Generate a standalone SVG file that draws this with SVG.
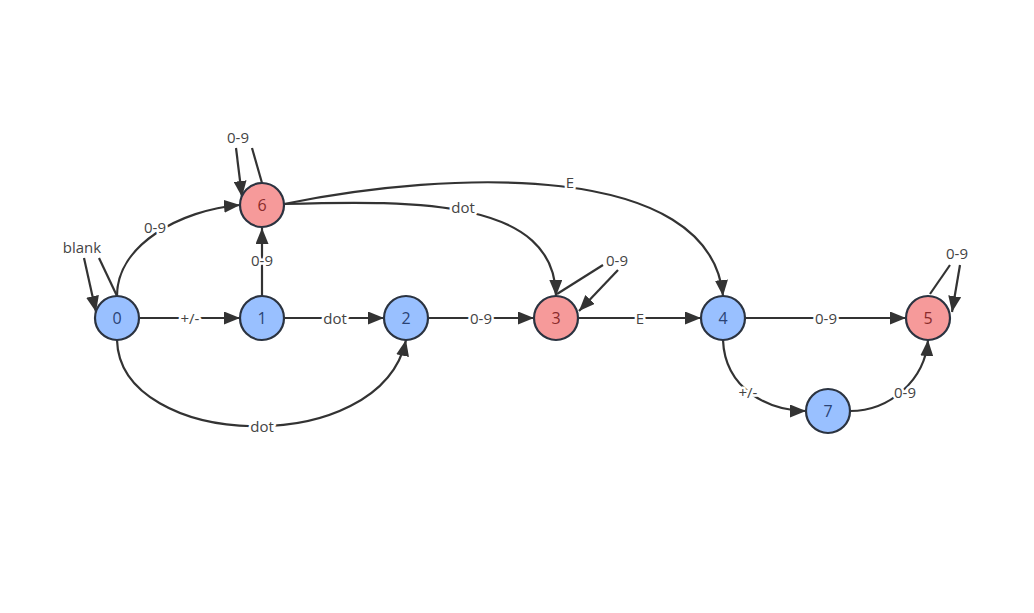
<svg xmlns="http://www.w3.org/2000/svg" width="1034" height="613" viewBox="0 0 1034 613">
<style>
.e{fill:none;stroke:#333;stroke-width:2.2}
.a{marker-end:url(#arr)}
.lbl{font-family:"Open Sans","Liberation Sans",sans-serif;font-size:15px;fill:#444;text-anchor:middle;dominant-baseline:central;paint-order:stroke;stroke:#fff;stroke-width:5px;stroke-linejoin:round}
.nb{fill:#99c0ff;stroke:#2b3340;stroke-width:2.2}
.nr{fill:#f69a9a;stroke:#2b3340;stroke-width:2.2}
.tb{font-family:"Open Sans","Liberation Sans",sans-serif;font-size:16px;fill:#2a4375;text-anchor:middle;dominant-baseline:central}
.tr{font-family:"Open Sans","Liberation Sans",sans-serif;font-size:16px;fill:#8a2b2b;text-anchor:middle;dominant-baseline:central}
</style>
<defs>
<marker id="arr" markerUnits="userSpaceOnUse" markerWidth="17" markerHeight="13" refX="16" refY="6.5" orient="auto">
<path d="M0,0 L16,6.5 L0,13 z" fill="#333"/>
</marker>
</defs>
<rect width="1034" height="613" fill="#fff"/>
<g id="connectors">
<path class="e a" d="M139,318 L240,318"/>
<path class="e a" d="M284,318 L384,318"/>
<path class="e a" d="M428,318 L534,318"/>
<path class="e a" d="M578,318 L701,318"/>
<path class="e a" d="M745,318 L906,318"/>
<path class="e a" d="M262,296 L262,228"/>
<path class="e a" d="M117,296 C117,245 180,210 240,205"/>
<path class="e a" d="M284,204 C420,200 555,200 556,296"/>
<path class="e a" d="M284,204 C450,170 710,160 723,296"/>
<path class="e a" d="M117,340 C120,450 380,460 406,340"/>
<path class="e a" d="M723,340 C725,390 770,411 806,411"/>
<path class="e a" d="M850,411 C890,411 925,380 928,340"/>
<path class="e a" d="M84,258 L96,312"/>
<path class="e" d="M99,258 L117,296"/>
<path class="e a" d="M236,148 L242,197"/>
<path class="e" d="M252,148 L262,183"/>
<path class="e" d="M557,294 L603,265"/>
<path class="e a" d="M618,270 L579,311"/>
<path class="e" d="M930,294 L950,265"/>
<path class="e a" d="M960,265 L952,312"/>
<text class="lbl" x="190" y="318">+/-</text>
<text class="lbl" x="335" y="318">dot</text>
<text class="lbl" x="481" y="318">0-9</text>
<text class="lbl" x="640" y="318">E</text>
<text class="lbl" x="826" y="318">0-9</text>
<text class="lbl" x="262" y="260">0-9</text>
<text class="lbl" x="155" y="227">0-9</text>
<text class="lbl" x="463" y="207">dot</text>
<text class="lbl" x="570" y="182">E</text>
<text class="lbl" x="262" y="426">dot</text>
<text class="lbl" x="748" y="392">+/-</text>
<text class="lbl" x="905" y="392">0-9</text>
<text class="lbl" x="82" y="247">blank</text>
<text class="lbl" x="238" y="137">0-9</text>
<text class="lbl" x="617" y="260">0-9</text>
<text class="lbl" x="957" y="253">0-9</text>
</g>
<g id="n0"><circle class="nb" cx="117" cy="318" r="22"/><text class="tb" x="117" y="318">0</text></g>
<g id="n1"><circle class="nb" cx="262" cy="318" r="22"/><text class="tb" x="262" y="318">1</text></g>
<g id="n2"><circle class="nb" cx="406" cy="318" r="22"/><text class="tb" x="406" y="318">2</text></g>
<g id="n3"><circle class="nr" cx="556" cy="318" r="22"/><text class="tr" x="556" y="318">3</text></g>
<g id="n4"><circle class="nb" cx="723" cy="318" r="22"/><text class="tb" x="723" y="318">4</text></g>
<g id="n5"><circle class="nr" cx="928" cy="318" r="22"/><text class="tr" x="928" y="318">5</text></g>
<g id="n6"><circle class="nr" cx="262" cy="205" r="22"/><text class="tr" x="262" y="205">6</text></g>
<g id="n7"><circle class="nb" cx="828" cy="411" r="22"/><text class="tb" x="828" y="411">7</text></g>
</svg>
